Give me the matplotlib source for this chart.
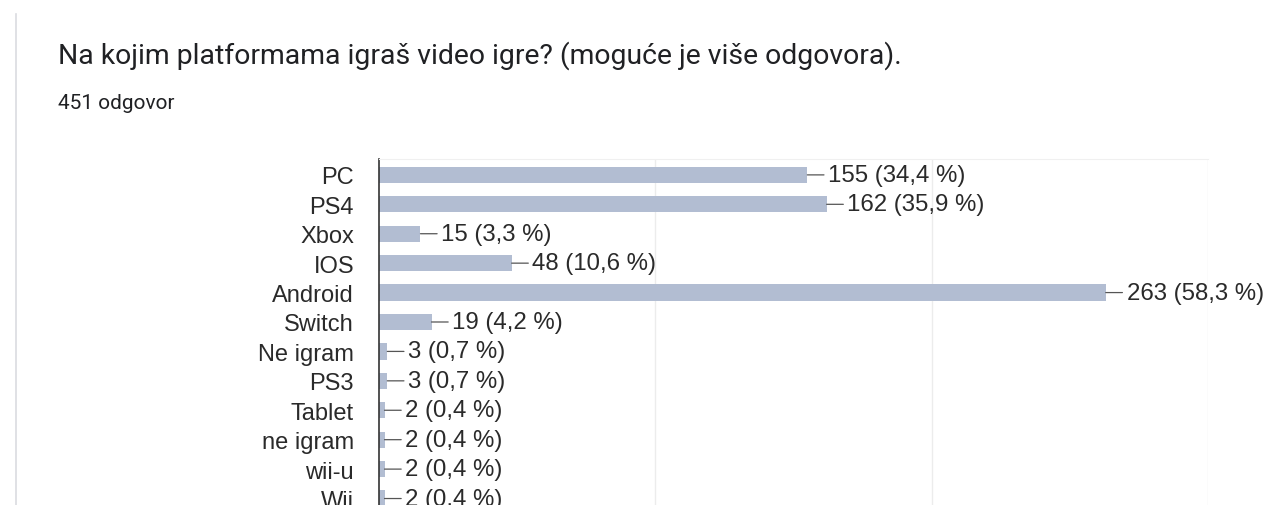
import matplotlib
matplotlib.use("Agg")
import matplotlib.pyplot as plt
from matplotlib.lines import Line2D

# podaci iz ankete
platforme = ["PC", "PS4", "Xbox", "IOS", "Android", "Switch", "Ne igram",
             "PS3", "Tablet", "ne igram", "wii-u", "Wii"]
odgovori = [155, 162, 15, 48, 263, 19, 3, 3, 2, 2, 2, 2]
postotci = ["34,4", "35,9", "3,3", "10,6", "58,3", "4,2", "0,7",
            "0,7", "0,4", "0,4", "0,4", "0,4"]
naslov = "Na kojim platformama igraš video igre? (moguće je više odgovora)."
podnaslov = "451 odgovor"

plt.rcParams['font.family'] = ['Liberation Sans', 'DejaVu Sans']

fig = plt.figure(figsize=(12.69, 5.06), dpi=100)
ax = fig.add_axes([379 / 1269, 0, (1208 - 379) / 1269, 1 - 160 / 506])

boja_traka = '#b2bdd2'
pozicije = list(range(len(platforme)))
ax.barh(pozicije, odgovori, height=0.55, color=boja_traka, zorder=2)

for i, (v, p) in enumerate(zip(odgovori, postotci)):
    ax.annotate(f"{v} ({p} %)", xy=(v, i), xytext=(15, 0),
                textcoords='offset points', ha='left', va='center',
                fontsize=17.3, color='#2a2a2a', zorder=3,
                arrowprops=dict(arrowstyle='-', color='#555555', lw=0.9,
                                shrinkA=1, shrinkB=0, relpos=(0, 0.5)))

ax.set_xlim(0, 300)
ax.set_ylim(11.22, -0.54)
ax.set_xticks([100, 200, 300])
ax.set_xticklabels([])
ax.tick_params(axis='x', length=0)
ax.grid(axis='x', color='#ececec', lw=1, zorder=0)
ax.set_yticks(pozicije)
ax.set_yticklabels(platforme, fontsize=17, color='#2a2a2a')
ax.tick_params(axis='y', length=0, pad=18)

for s in ['right', 'bottom']:
    ax.spines[s].set_visible(False)
ax.spines['top'].set_color('#f0f0f0')
ax.spines['left'].set_color('#333333')
ax.spines['left'].set_linewidth(1.2)

fig.text(58 / 1269, 1 - 64 / 506, naslov, fontsize=20.4, color='#202124',
         family=['Roboto', 'DejaVu Sans'], va='baseline', ha='left')
fig.text(58 / 1269, 1 - 109 / 506, podnaslov, fontsize=15, color='#202124',
         family=['Roboto', 'DejaVu Sans'], va='baseline', ha='left')

fig.add_artist(Line2D([16 / 1269, 16 / 1269], [0, 1 - 15 / 506],
                      color='#dadce0', lw=1.2))

fig.savefig("out.png", dpi=100)
